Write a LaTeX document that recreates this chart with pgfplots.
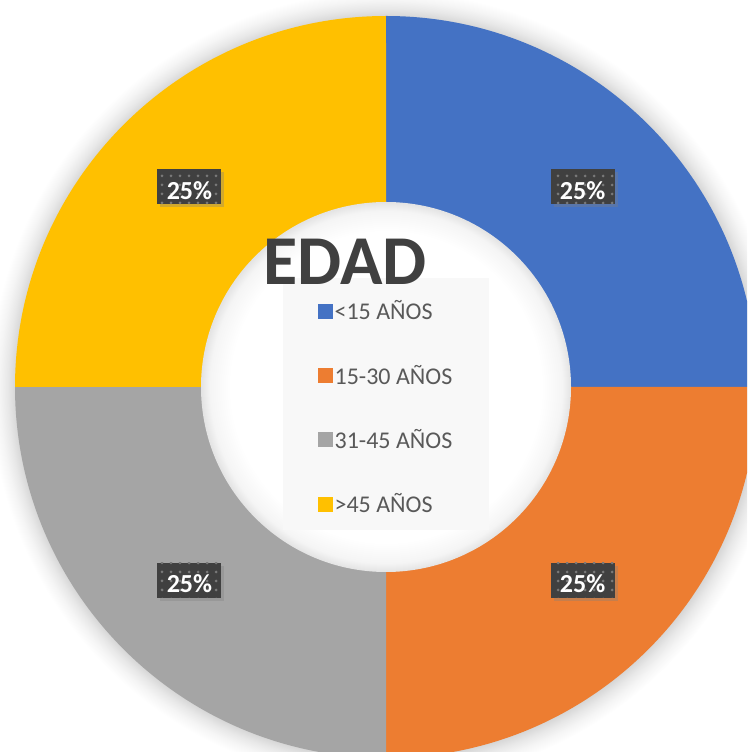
\documentclass[border=0pt]{standalone}
\usepackage{pgfplots}
\pgfplotsset{compat=1.18}
\usepackage{pgfplotstable}
\usepackage{fontspec}
\setmainfont{Carlito}
\usetikzlibrary{shadows,patterns.meta}
\definecolor{cBlue}{HTML}{4472C4}
\definecolor{cOrange}{HTML}{ED7D31}
\definecolor{cGray}{HTML}{A5A5A5}
\definecolor{cYellow}{HTML}{FFC000}
\definecolor{cText}{HTML}{595959}
\definecolor{cTitle}{HTML}{404040}
\definecolor{cLbl}{HTML}{404040}
\definecolor{cLegBg}{HTML}{F8F8F8}

\pgfplotstableread[col sep=comma]{
label,value,color
<15 AÑOS,25,cBlue
15-30 AÑOS,25,cOrange
31-45 AÑOS,25,cGray
>45 AÑOS,25,cYellow
}\datatable

\pgfdeclareradialshading{glow}{\pgfpoint{0bp}{0bp}}{color(0bp)=(black!16); color(23.4bp)=(black!16); color(23.9bp)=(black!9); color(24.4bp)=(black!4); color(25bp)=(white); color(50bp)=(white)}
\pgfdeclareradialshading{hole}{\pgfpoint{0bp}{0bp}}{color(0bp)=(white); color(21bp)=(white); color(23.8bp)=(black!4); color(25bp)=(black!11); color(50bp)=(black!11)}

\tikzset{lbl/.style={fill=cLbl, text=white, font=\bfseries\fontsize{26}{30}\selectfont,
    minimum width=64pt, text height=30pt, text depth=5pt, inner sep=0pt,
    drop shadow={shadow xshift=3pt, shadow yshift=-3pt, opacity=0.35},
    postaction={pattern={Dots[distance=9pt,radius=1.5pt]}, pattern color=cLbl!70!white}}}

\begin{document}
\begin{tikzpicture}
\xdef\total{0}
\pgfplotstableforeachcolumnelement{value}\of\datatable\as\val{%
  \pgfmathsetmacro\tmp{\total+\val}\xdef\total{\tmp}}
\begin{axis}[
  width=747pt, height=752pt, scale only axis,
  xmin=0, xmax=747, ymin=0, ymax=752,
  hide axis, clip=true,
  legend style={at={(axis cs:318,453.5)}, anchor=north west, draw=none, fill=none,
    inner sep=0pt, font=\fontsize{24}{28}\selectfont, text=cText,
    row sep=39.7pt, column sep=0pt},
  legend cell align=left,
]
\shade[shading=glow] (axis cs:386,365) circle[radius=396pt];
\xdef\cum{0}
\pgfplotsinvokeforeach{0,...,3}{
  \pgfplotstablegetelem{#1}{value}\of\datatable \let\myval\pgfplotsretval
  \pgfplotstablegetelem{#1}{color}\of\datatable \let\mycol\pgfplotsretval
  \pgfmathsetmacro\angA{90-\cum*(360/\total)}
  \pgfmathsetmacro\angB{90-(\cum+\myval)*(360/\total)}
  \edef\temp{\noexpand\fill[\mycol] (axis cs:386,365) -- ++(\angA:371pt) arc[start angle=\angA, end angle=\angB, radius=371pt] -- cycle;}
  \temp
  \pgfmathsetmacro\tmp{\cum+\myval}\xdef\cum{\tmp}
}
\shade[shading=hole] (axis cs:386,365) circle[radius=185pt];
\fill[cLegBg] (axis cs:283,474) rectangle (axis cs:489,222);
\xdef\cum{0}
\pgfplotsinvokeforeach{0,...,3}{
  \pgfplotstablegetelem{#1}{value}\of\datatable \let\myval\pgfplotsretval
  \pgfmathsetmacro\angA{90-\cum*(360/\total)}
  \pgfmathsetmacro\angB{90-(\cum+\myval)*(360/\total)}
  \pgfmathsetmacro\angM{(\angA+\angB)/2}
  \pgfmathtruncatemacro\pct{round(\myval*(100/\total))}
  \edef\temp{\noexpand\node[lbl, anchor=base] at ([shift={(\angM:278pt)}, yshift=-9pt]axis cs:386,365) {\pct\noexpand\%};}
  \temp
  \pgfmathsetmacro\tmp{\cum+\myval}\xdef\cum{\tmp}
}
\node[anchor=base, inner sep=0pt, text=cTitle, font=\bfseries\fontsize{70}{80}\selectfont] at (axis cs:345,467) {EDAD};
\addlegendimage{legend image code/.code={\fill[cBlue] (0pt,-7pt) rectangle (14pt,7pt);}}
\addlegendentry{<15 AÑOS}
\addlegendimage{legend image code/.code={\fill[cOrange] (0pt,-7pt) rectangle (14pt,7pt);}}
\addlegendentry{15-30 AÑOS}
\addlegendimage{legend image code/.code={\fill[cGray] (0pt,-7pt) rectangle (14pt,7pt);}}
\addlegendentry{31-45 AÑOS}
\addlegendimage{legend image code/.code={\fill[cYellow] (0pt,-7pt) rectangle (14pt,7pt);}}
\addlegendentry{>45 AÑOS}
\end{axis}
\pgfresetboundingbox
\useasboundingbox (current axis.south west) rectangle (current axis.north east);
\end{tikzpicture}
\end{document}
